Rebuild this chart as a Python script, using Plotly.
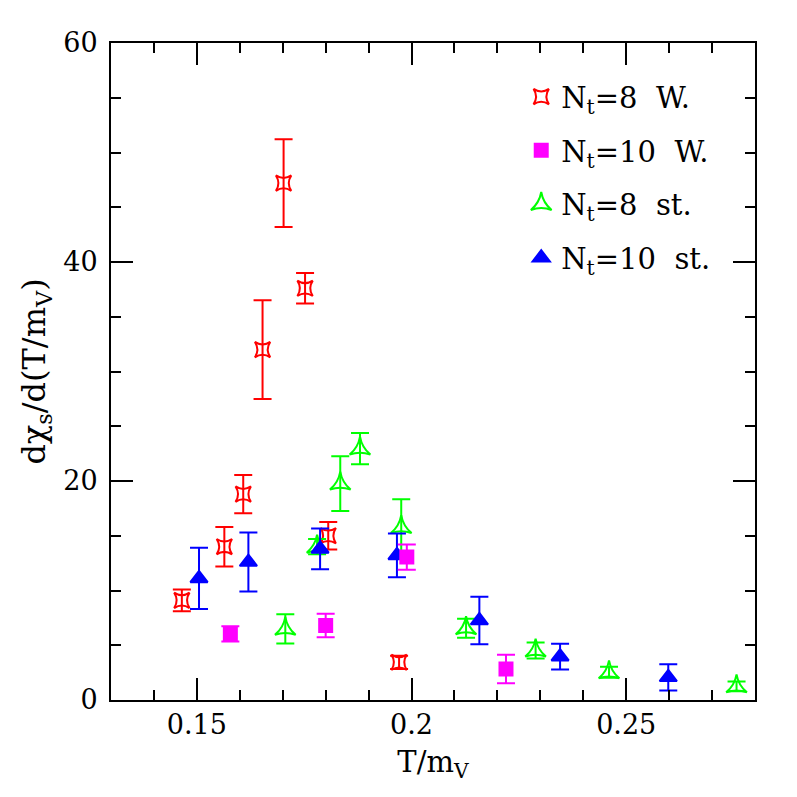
import plotly.graph_objects as go

FONT = "DejaVu Serif"

# N_t=8, Wilson
w8_x = [0.1465, 0.1564, 0.1608, 0.1653, 0.1702, 0.1752, 0.1806, 0.1971]
w8_y = [9.1, 14.0, 18.8, 32.0, 47.2, 37.6, 15.0, 3.44]
w8_e = [1.0, 1.8, 1.75, 4.5, 4.0, 1.4, 1.25, 0.6]

# N_t=10, Wilson
w10_x = [0.1578, 0.1800, 0.1989, 0.2220]
w10_y = [6.04, 6.8, 13.05, 2.84]
w10_e = [0.7, 1.07, 1.15, 1.3]

# N_t=8, staggered
s8_x = [0.1706, 0.1780, 0.1834, 0.1880, 0.1976, 0.2127, 0.2289, 0.2460, 0.2757]
s8_y = [6.5, 14.0, 19.76, 22.96, 15.79, 6.55, 4.51, 2.53, 1.25]
s8_e = [1.33, 0.7, 2.5, 1.42, 2.55, 0.87, 0.73, 0.5, 0.45]

# N_t=10, staggered
s10_x = [0.1505, 0.1620, 0.1787, 0.1966, 0.2158, 0.2346, 0.2598]
s10_y = [11.1, 12.6, 13.8, 13.2, 7.26, 3.96, 2.07]
s10_e = [2.8, 2.7, 1.86, 2.0, 2.18, 1.17, 1.2]

series = [
    # name, x, y, err, colour, symbol, size, legend rank
    ("N<sub>t</sub>=8\u00a0 W.", w8_x, w8_y, w8_e, "#ff0000", "star-square-open", 14, 1),
    ("N<sub>t</sub>=8\u00a0 st.", s8_x, s8_y, s8_e, "#00ff00", "star-triangle-up-open", 15, 3),
    ("N<sub>t</sub>=10\u00a0 st.", s10_x, s10_y, s10_e, "#0000ff", "triangle-up", 15, 4),
    ("N<sub>t</sub>=10\u00a0 W.", w10_x, w10_y, w10_e, "#ff00ff", "square", 13, 2),
]

fig = go.Figure()
for name, x, y, e, col, sym, size, rank in series:
    fig.add_trace(go.Scatter(
        x=x, y=y, mode="markers", name=name,
        legendrank=rank, legendgroup=name,
        marker=dict(symbol=sym, size=size, color=col,
                    line=dict(color=col, width=2)),
        error_y=dict(type="data", array=e, color=col, thickness=2, width=9),
    ))

axis_common = dict(
    showline=True, linecolor="black", linewidth=2, mirror="allticks",
    ticks="inside", tickcolor="black", tickwidth=2, ticklen=22,
    showgrid=False, zeroline=False,
    tickfont=dict(family=FONT, size=27, color="black"),
)

fig.update_xaxes(
    range=[0.13, 0.28], tick0=0, dtick=0.05,
    minor=dict(ticks="inside", ticklen=10, tickwidth=2, tickcolor="black", dtick=0.01, tick0=0),
    title=dict(text="T/m<sub>V</sub>", font=dict(family=FONT, size=29, color="black"), standoff=12),
    **axis_common,
)
fig.update_yaxes(
    range=[0, 60], tick0=0, dtick=20, ticklabelstandoff=6,
    minor=dict(ticks="inside", ticklen=10, tickwidth=2, tickcolor="black", dtick=5, tick0=0),
    title=dict(text="d\u03c7<sub>s</sub>/d(T/m<sub>V</sub>)", font=dict(family=FONT, size=32, color="black"), standoff=8),
    **axis_common,
)

# page body has an 8px margin, so the figure is 781 wide inside a 797 window
fig.update_layout(
    width=781, height=781,
    paper_bgcolor="white", plot_bgcolor="white",
    margin=dict(l=103, r=34, t=35, b=89),
    showlegend=True,
    legend=dict(
        x=0.637, y=0.957, xanchor="left", yanchor="top",
        bgcolor="rgba(0,0,0,0)", tracegroupgap=13,
        font=dict(family=FONT, size=29, color="black"),
    ),
)

fig.write_html("out.html")
